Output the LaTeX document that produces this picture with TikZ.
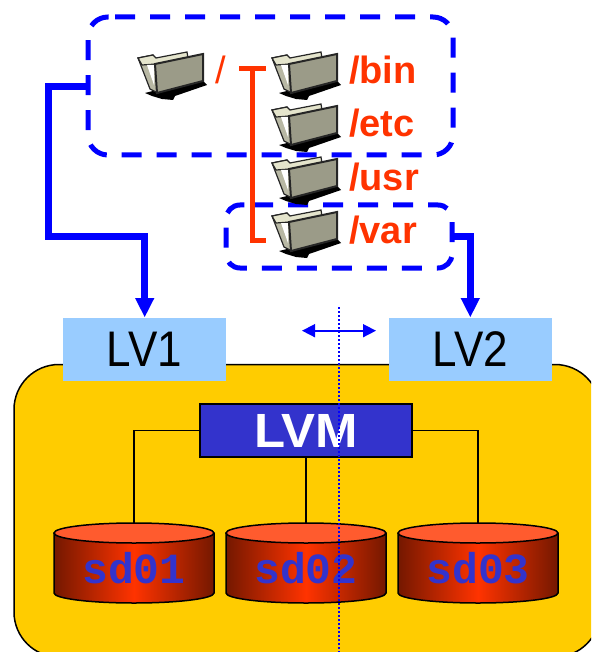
\documentclass[tikz,border=0pt]{standalone}
\usepackage{fontspec}
\usepackage{graphicx}
\setmainfont{Liberation Sans}
\newfontfamily\monofam{Liberation Mono}
\usetikzlibrary{arrows.meta,calc}
\definecolor{orangered}{HTML}{FF3300}
\definecolor{dashblue}{HTML}{0000FF}
\definecolor{gold}{HTML}{FFCC00}
\definecolor{lvblue}{HTML}{99CCFF}
\definecolor{lvmblue}{HTML}{3333CC}
\definecolor{diskdark}{HTML}{741800}
\definecolor{disktop}{HTML}{FF5B2E}
\definecolor{foldertan}{HTML}{9B9B88}
\definecolor{folderlight}{HTML}{E4E4CC}
\definecolor{foldermid}{HTML}{B8B8A4}
\tikzset{
  pathlabel/.style={text=orangered,font=\fontsize{38}{38}\selectfont\bfseries,anchor=base west,inner sep=0pt},
  lvbox/.style={fill=lvblue,minimum width=163pt,minimum height=63pt,inner sep=0pt,font=\fontsize{50}{50}\selectfont},
  dashbox/.style={draw=dashblue,line width=5pt,dash pattern=on 20pt off 15pt},
  bluelink/.style={draw=dashblue,line width=6.5pt,line join=miter},
  thinlink/.style={draw=black,line width=1.4pt},
  treeline/.style={draw=orangered,line width=5pt},
  pics/folder/.style={code={
    \fill[black] (-25,21) -- (-13,18) -- (32,8) -- (37,13) -- (5,24) -- (3,28) -- (-8,27) -- (-18,24) -- cycle;
    \fill[foldermid,draw=black!85,line width=1.2pt] (-32,-14) -- (-17,-17) -- (-15,-13) -- (-15,-8) -- (-12,21) -- (-20,17) -- cycle;
    \fill[folderlight,draw=black!85,line width=1.2pt] (-32,-14) -- (-17,-17) -- (-14,-14) -- (17,-20) -- (18,-14) -- (-14,-8) -- (-28,-7) -- cycle;
    \fill[white] (-23,-7) -- (-16,-7) -- (-16,13) -- cycle;
    \fill[foldertan,draw=black!85,line width=2pt] (-15,-8) -- (33,-18) -- (33,9) -- (-13,21) -- cycle;
  }},
  disklabel/.style={text=lvmblue,font=\fontsize{43}{43}\selectfont\monofam\bfseries,inner sep=0pt},
}
\newcommand{\drawdisk}[1]{%
  \begin{scope}[shift={(#1,0)}]
    \path[left color=diskdark,right color=diskdark,middle color=orangered]
      (-80,533) -- (-80,593) arc[start angle=180,end angle=0,x radius=80,y radius=10] -- (80,533) -- cycle;
    \draw[line width=1.5pt] (-80,533) -- (-80,593) arc[start angle=180,end angle=0,x radius=80,y radius=10] -- (80,533);
    \draw[fill=disktop,line width=1.5pt] (0,533) ellipse[x radius=80,y radius=10];
  \end{scope}%
}
\begin{document}
\begin{tikzpicture}[x=1pt,y=-1pt]
\useasboundingbox (0,0) rectangle (591,652);
\clip (0,0) rectangle (591,652);
% base panel
\path[draw=black,fill=gold,line width=1.5pt,rounded corners=45pt] (14,657) -- (14,364.5) -- (600,364.5) -- (600,657) -- cycle;
% dashed boxes
\draw[dashbox,rounded corners=20pt] (115,17) -- (453,17) -- (453,155) -- (88,155) -- (88,17) -- (115,17);
\draw[dashbox,rounded corners=14pt] (253,205) -- (452,205) -- (452,268) -- (226,268) -- (226,205) -- (253,205);
% folders
\pic at (170,72) {folder};
\pic at (304,72) {folder};
\pic at (304,124) {folder};
\pic at (304,177) {folder};
\pic at (304,230) {folder};
% tree
\coordinate (treeleft) at (239,69);
\coordinate (treeright) at (266,69);
\coordinate (treetop) at (252.5,69);
\coordinate (treebottom) at (252.5,240.5);
\coordinate (treeend) at (266,240.5);
\draw[treeline] (treeleft) -- (treeright);
\draw[treeline,line join=miter] (treetop) -- (treebottom) -- (treeend);
% labels
\node[pathlabel,font=\fontsize{38}{38}\selectfont] (root) at (215.5,84) {/};
\node[pathlabel] (bin) at (349,84) {/bin};
\node[pathlabel] (etc) at (349,137) {/etc};
\node[pathlabel] (usr) at (349,190) {/usr};
\node[pathlabel] (var) at (349,243) {/var};
% LV boxes
\node[lvbox] (lv1) at (144.5,349.5) {\scalebox{0.88}[1]{LV1}};
\node[lvbox] (lv2) at (470.5,349.5) {\scalebox{0.88}[1]{LV2}};
% links
\coordinate (rootout) at (88,86.5);
\coordinate (varout) at (452,236.5);
\coordinate (lv1head) at (144.7,317);
\coordinate (lv2head) at (470.3,317);
\draw[bluelink] (rootout) -- (48.5,86.5) -- (48.5,236.5) -- (144.7,236.5) -- (144.7,300);
\fill[dashblue] (lv1head) -- ++(-9.7,-19) -- ++(19.4,0) -- cycle;
\draw[bluelink] (varout) -- (470.3,236.5) -- (470.3,300);
\fill[dashblue] (lv2head) -- ++(-9.7,-19) -- ++(19.4,0) -- cycle;
% LVM
\node[fill=lvmblue,draw=black,line width=1.8pt,minimum width=212pt,minimum height=53pt,inner sep=0pt,text=white,font=\fontsize{48}{48}\selectfont\bfseries] (lvm) at (306,430.5) {\scalebox{1.06}[1]{LVM}};
\coordinate (d1) at (134,524);
\coordinate (d2) at (306,524);
\coordinate (d3) at (478,524);
\draw[thinlink] (lvm.west) -- (134,430.5) -- (d1);
\draw[thinlink] (lvm.south) -- (d2);
\draw[thinlink] (lvm.east) -- (478,430.5) -- (d3);
% disks
\drawdisk{134}
\drawdisk{306}
\drawdisk{478}
\node[disklabel] (sd1) at (134,568) {sd01};
\node[disklabel] (sd2) at (306,568) {sd02};
\node[disklabel] (sd3) at (478,568) {sd03};
% arrow and dotted line
\coordinate (dtop) at (338.7,307);
\coordinate (dbot) at (338.7,652);
\coordinate (aleft) at (302,330.7);
\coordinate (aright) at (376,330.7);
\draw[dashblue,line width=1.7pt,dash pattern=on 2pt off 2pt] (dtop) -- (dbot);
\draw[dashblue,line width=1.6pt,{Triangle[length=13pt,width=13pt]}-{Triangle[length=13pt,width=13pt]}] (aleft) -- (aright);
\end{tikzpicture}
\end{document}
